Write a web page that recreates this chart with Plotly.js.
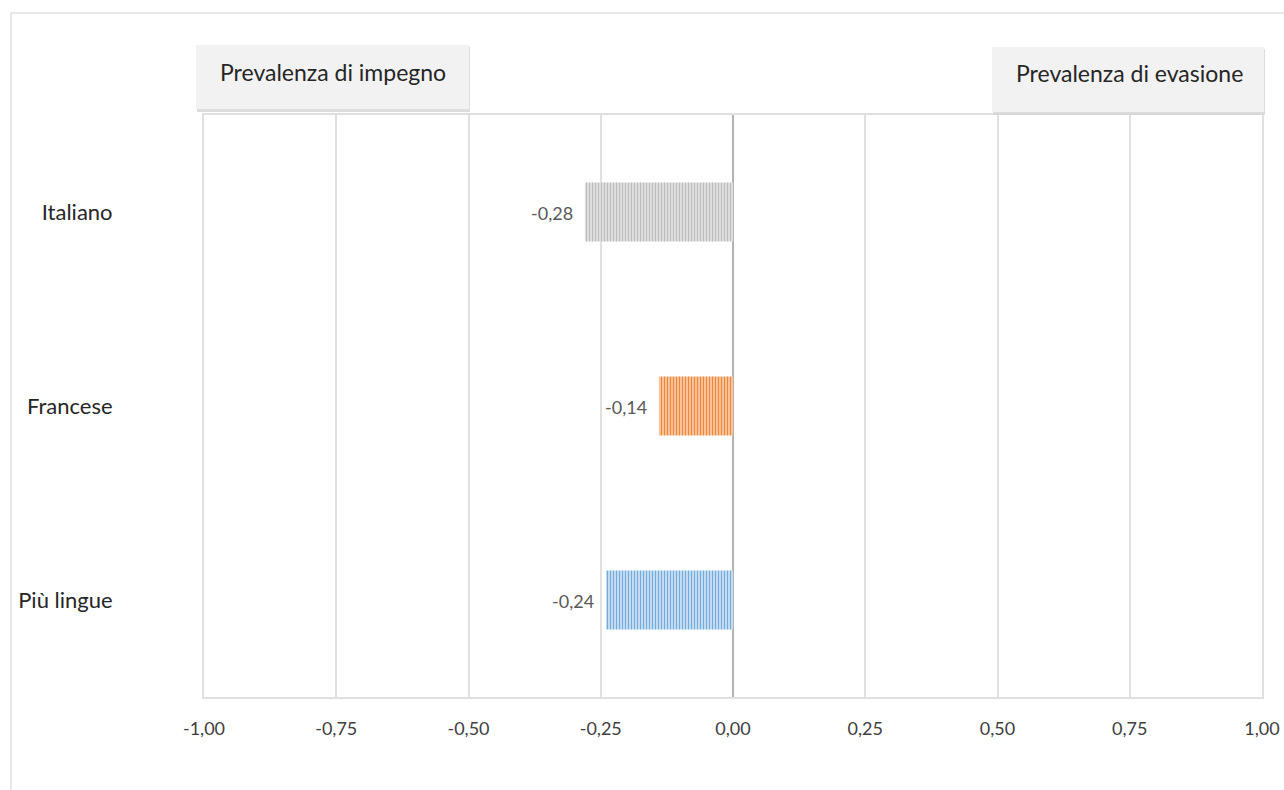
<!DOCTYPE html>
<html>
<head>
<meta charset="utf-8">
<script src="https://cdn.plot.ly/plotly-3.0.1.min.js"></script>
<style>
  html, body { margin: 0; padding: 0; background: #ffffff; }
  #chart { width: 1284px; height: 790px; }
</style>
</head>
<body>
<div id="chart"></div>
<script>
// Balance index by language group (negative = commitment, positive = evasion)
const categories = ['Italiano', 'Francese', 'Più lingue'];
const values = [-0.28, -0.14, -0.24];
const barLineColors = ['#bcbcbc', '#f0853a', '#74abde'];
const barFillColors = ['#e4e4e4', '#fbd0ae', '#d2e5f6'];
const tickValues = [-1, -0.75, -0.5, -0.25, 0, 0.25, 0.5, 0.75, 1];
const tickLabels = ['-1,00', '-0,75', '-0,50', '-0,25', '0,00', '0,25', '0,50', '0,75', '1,00'];
const leftBoxLabel = 'Prevalenza di impegno';
const rightBoxLabel = 'Prevalenza di evasione';

const W = 1284, H = 790;
const M = { l: 204, r: 22, t: 115, b: 93 };
const PW = W - M.l - M.r, PH = H - M.t - M.b;
// pixel -> paper coordinates
const px = x => (x - M.l) / PW;
const py = y => (H - M.b - y) / PH;

const fmt = v => v.toFixed(2).replace('.', ',');

const font = "Lato, 'Liberation Sans', sans-serif";

// one trace per group so each bar keeps its own hatch colours
const traces = categories.map((cat, i) => ({
  type: 'bar',
  orientation: 'h',
  y: [cat],
  x: [values[i]],
  width: 0.305,
  marker: {
    color: barFillColors[i],
    line: { width: 0 },
    pattern: {
      shape: '|',
      fgcolor: barLineColors[i],
      bgcolor: barFillColors[i],
      size: 3,
      solidity: 0.45,
      fillmode: 'replace'
    }
  },
  hoverinfo: 'skip'
}));

// value labels, left of each bar end
const valueLabels = categories.map((cat, i) => ({
  xref: 'x', yref: 'y', x: values[i], y: cat,
  text: fmt(values[i]), showarrow: false,
  xanchor: 'right', yanchor: 'middle', xshift: -10, yshift: -1,
  font: { family: font, size: 18, color: '#595959' }
}));

function box(x0, y0, x1, y1) {
  return [
    { type: 'rect', xref: 'paper', yref: 'paper', x0: px(x0 + 1), x1: px(x1 + 1), y0: py(y1 + 3), y1: py(y0 + 2),
      fillcolor: '#d4d4d4', line: { width: 0 }, opacity: 0.8 },
    { type: 'rect', xref: 'paper', yref: 'paper', x0: px(x0), x1: px(x1), y0: py(y1), y1: py(y0),
      fillcolor: '#f2f2f2', line: { width: 0 } }
  ];
}

const shapes = [
  // outer frame (top and left edges)
  { type: 'line', xref: 'paper', yref: 'paper', x0: px(11), x1: px(1290), y0: py(13), y1: py(13), line: { color: '#e8e8e8', width: 2 } },
  { type: 'line', xref: 'paper', yref: 'paper', x0: px(11), x1: px(11), y0: py(13), y1: py(800), line: { color: '#e8e8e8', width: 2 } },
  ...box(196, 45, 469, 109),
  ...box(992, 47, 1264, 112)
];

const annotations = [
  { xref: 'paper', yref: 'paper', x: px(333), y: py(72), text: leftBoxLabel, showarrow: false,
    xanchor: 'center', yanchor: 'middle', font: { family: font, size: 23, color: '#262626' } },
  { xref: 'paper', yref: 'paper', x: px(1129), y: py(73), text: rightBoxLabel, showarrow: false,
    xanchor: 'center', yanchor: 'middle', font: { family: font, size: 23, color: '#262626' } },
  ...valueLabels
];

const layout = {
  width: W, height: H,
  margin: M,
  paper_bgcolor: '#ffffff',
  plot_bgcolor: '#ffffff',
  showlegend: false,
  barmode: 'overlay',
  font: { family: font, color: '#404040' },
  xaxis: {
    range: [-1, 1],
    tickvals: tickValues,
    ticktext: tickLabels,
    ticks: '',
    ticklabelstandoff: 14,
    tickfont: { family: font, size: 18, color: '#404040' },
    showgrid: true,
    gridcolor: '#e0e0e0',
    gridwidth: 2,
    zeroline: true,
    zerolinecolor: '#b3b3b3',
    zerolinewidth: 2,
    showline: true,
    linecolor: '#e0e0e0',
    linewidth: 2,
    mirror: true,
    fixedrange: true
  },
  yaxis: {
    type: 'category',
    categoryorder: 'array',
    categoryarray: categories,
    autorange: 'reversed',
    ticks: '',
    ticklabelstandoff: 85,
    tickfont: { family: font, size: 22, color: '#262626' },
    showgrid: false,
    showline: true,
    linecolor: '#e0e0e0',
    linewidth: 2,
    mirror: true,
    fixedrange: true
  },
  shapes: shapes,
  annotations: annotations
};

Plotly.newPlot('chart', traces, layout, { displayModeBar: false, staticPlot: true });
</script>
</body>
</html>
